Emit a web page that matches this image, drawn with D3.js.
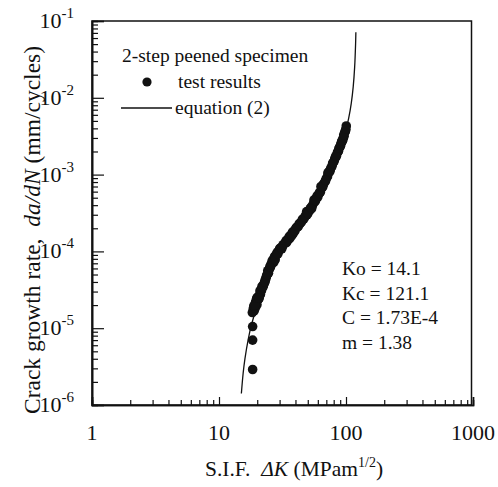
<!DOCTYPE html>
<html>
<head>
<meta charset="utf-8">
<script src="https://cdn.jsdelivr.net/npm/d3@7"></script>
<style>
  html, body { margin: 0; padding: 0; background: #fff; }
  svg { display: block; }
</style>
</head>
<body>
<svg id="chart" width="498" height="487"></svg>
<script>
// ---- data ----
const xDomain = [1, 1000];
const yDomain = [1e-6, 1e-1];
const xTickLabels = ["1", "10", "100", "1000"];
const xTickValues = [1, 10, 100, 1000];
const yTickValues = [1e-6, 1e-5, 1e-4, 1e-3, 1e-2, 1e-1];
const yTickExponents = ["-6", "-5", "-4", "-3", "-2", "-1"];

// test results: ΔK and da/dN
const testDK = [18.4, 18.4, 18.4,
  18.3, 18.6, 18.9, 19.0, 19.3, 19.6, 19.9, 20.2, 20.5, 20.9, 21.2, 21.0, 21.6, 22.0, 22.3, 22.8,
  23.1, 23.6, 23.9, 24.2, 24.8, 25.2, 25.7, 26.2, 26.8, 27.4, 28.0, 28.8, 29.5, 30.3, 31.0, 32.0,
  32.9, 33.8, 34.8, 35.8, 36.8, 37.9, 39.0, 40.2, 41.4, 42.7, 44.0, 45.3, 46.6, 48.0, 49.3, 50.5,
  51.8, 53.0, 54.3, 55.6, 57.0, 58.5, 60.0, 61.4, 62.8, 64.2, 65.6, 67.0, 68.5, 70.0, 71.5, 73.0,
  74.5, 76.0, 77.6, 79.2, 80.8, 82.4, 84.0, 85.6, 87.2, 88.8, 90.4, 92.0, 93.6, 95.2, 96.5, 97.6,
  98.6, 100.5,
  19.4, 20.0, 21.8, 24.5, 27.0, 30.0, 34.0, 38.5, 43.5, 49.0, 56.0, 63.5, 72.0, 81.5, 91.0, 99.0,
  18.8, 19.2, 20.4, 21.4, 22.6, 23.4, 25.0, 26.0, 28.4, 31.5, 33.3, 36.3, 40.8, 46.0, 52.4, 59.2, 66.3, 75.2, 86.4, 94.4,
  19.8, 20.7, 22.1, 23.0, 24.0, 25.4, 27.7, 29.0, 31.2, 35.3, 37.4, 39.6, 42.0, 44.8, 47.3, 50.0, 53.6, 57.6, 62.0, 65.0, 69.2, 73.7, 78.4, 83.2, 88.0, 92.8, 96.0, 99.8];
const testRate = [2.9e-6, 7.0e-6, 1.05e-5,
  1.6e-5, 1.78e-5, 1.68e-5, 1.95e-5, 1.83e-5, 2.15e-5, 2.02e-5, 2.35e-5, 2.4e-5, 2.68e-5, 2.75e-5, 3.05e-5, 3.08e-5, 3.45e-5, 3.55e-5, 3.95e-5,
  4.25e-5, 4.7e-5, 4.95e-5, 5.6e-5, 5.75e-5, 6.4e-5, 6.8e-5, 7.5e-5, 7.9e-5, 8.6e-5, 8.9e-5, 9.8e-5, 1.0e-4, 1.1e-4, 1.12e-4, 1.22e-4,
  1.27e-4, 1.38e-4, 1.44e-4, 1.57e-4, 1.63e-4, 1.78e-4, 1.84e-4, 2.0e-4, 2.08e-4, 2.28e-4, 2.37e-4, 2.6e-4, 2.66e-4, 2.93e-4, 3.0e-4, 3.3e-4,
  3.4e-4, 3.75e-4, 3.9e-4, 4.27e-4, 4.45e-4, 4.92e-4, 5.1e-4, 5.7e-4, 5.9e-4, 6.6e-4, 6.9e-4, 7.7e-4, 8.1e-4, 8.95e-4, 9.4e-4, 1.05e-3,
  1.09e-3, 1.22e-3, 1.28e-3, 1.43e-3, 1.5e-3, 1.67e-3, 1.73e-3, 1.94e-3, 2.02e-3, 2.24e-3, 2.34e-3, 2.6e-3, 2.72e-3, 3.0e-3, 3.15e-3, 3.5e-3,
  3.65e-3, 4.3e-3,
  2.2e-5, 2.5e-5, 3.5e-5, 5.2e-5, 7.2e-5, 1.08e-4, 1.3e-4, 1.72e-4, 2.3e-4, 3.3e-4, 4.7e-4, 7.0e-4, 1.05e-3, 1.6e-3, 2.5e-3, 3.7e-3,
  1.95e-5, 2.0e-5, 2.6e-5, 3.15e-5, 3.75e-5, 4.4e-5, 6.0e-5, 6.9e-5, 9.3e-5, 1.15e-4, 1.3e-4, 1.5e-4, 2.05e-4, 2.65e-4, 3.6e-4, 5.3e-4, 7.4e-4, 1.15e-3, 1.98e-3, 2.85e-3,
  2.45e-5, 2.45e-5, 3.4e-5, 4.0e-5, 5.0e-5, 6.2e-5, 7.8e-5, 9.2e-5, 1.08e-4, 1.42e-4, 1.6e-4, 1.85e-4, 2.1e-4, 2.45e-4, 2.8e-4, 3.1e-4, 3.6e-4, 4.6e-4, 5.8e-4, 6.9e-4, 8.4e-4, 1.1e-3, 1.4e-3, 1.75e-3, 2.2e-3, 2.75e-3, 3.3e-3, 3.9e-3];

// equation (2) curve: ΔK and da/dN
const eqDK = [15.0, 15.5, 16.0, 17.0, 18.0, 20.0, 23.0, 27.0, 32.0, 40.0, 50.0, 60.0, 70.0, 80.0, 90.0, 100.0, 105.0, 110.0, 114.0, 117.0, 119.0, 119.6];
const eqRate = [1.41e-6, 2.61e-6, 3.99e-6, 7.22e-6, 1.10e-5, 1.98e-5, 3.60e-5, 6.27e-5, 1.04e-4, 1.90e-4, 3.41e-4, 5.56e-4, 8.73e-4, 1.36e-3, 2.19e-3, 3.83e-3, 5.42e-3, 8.47e-3, 1.40e-2, 2.53e-2, 5.07e-2, 7.15e-2];

const legendTitle = "2-step peened specimen";
const legendItems = ["test results", "equation (2)"];
const paramLines = ["Ko = 14.1", "Kc = 121.1", "C = 1.73E-4", "m = 1.38"];

// ---- layout ----
const FF = "'Liberation Serif', 'Times New Roman', serif";
const svg = d3.select("#chart").attr("font-family", FF);
const L = 92, R = 473, T = 21, B = 405;
const x = d3.scaleLog().domain(xDomain).range([L, R]);
const y = d3.scaleLog().domain(yDomain).range([B, T]);

const ink = "#111";

// frame
svg.append("rect").attr("x", L).attr("y", T).attr("width", R - 1.5 - L).attr("height", B - T)
  .attr("fill", "none").attr("stroke", ink).attr("stroke-width", 1.5);

// minor / major ticks
const allX = x.ticks();
const minorX = allX.filter(v => !xTickValues.includes(v));
const allY = y.ticks();
const minorY = allY.filter(v => !yTickValues.some(t => Math.abs(t - v) / t < 1e-9));

const gx1 = svg.append("g").attr("transform", `translate(0,${B})`)
  .call(d3.axisBottom(x).tickValues(minorX).tickSize(-5).tickFormat(() => ""));
const gx2 = svg.append("g").attr("transform", `translate(0,${B})`)
  .call(d3.axisBottom(x).tickValues(xTickValues).tickSize(-8).tickFormat(() => ""));
const gy1 = svg.append("g").attr("transform", `translate(${L},0)`)
  .call(d3.axisLeft(y).tickValues(minorY).tickSize(-6).tickFormat(() => ""));
const gy2 = svg.append("g").attr("transform", `translate(${L},0)`)
  .call(d3.axisLeft(y).tickValues(yTickValues).tickSize(-12).tickFormat(() => ""));
[gx1, gx2, gy1, gy2].forEach(g => {
  g.select(".domain").attr("stroke", ink).attr("stroke-width", 1.6);
  g.selectAll(".tick line").attr("stroke", ink).attr("stroke-width", 1.2);
});

// x tick labels
svg.append("g").selectAll("text").data(xTickValues).join("text")
  .attr("fill", ink)
  .attr("x", d => x(d)).attr("y", 440)
  .attr("text-anchor", "middle").attr("font-size", 22)
  .text((d, i) => xTickLabels[i]);

// y tick labels 10^n
const yl = svg.append("g").selectAll("text").data(yTickValues).join("text")
  .attr("fill", ink)
  .attr("x", 74).attr("y", d => y(d) + 7)
  .attr("text-anchor", "end").attr("font-size", 22);
yl.append("tspan").text("10");
yl.append("tspan").attr("dy", -10).attr("font-size", 15).text((d, i) => yTickExponents[i]);

// axis titles
const xt = svg.append("text").attr("x", 294).attr("y", 476).attr("text-anchor", "middle")
  .attr("fill", ink).attr("font-size", 21.5).style("white-space", "pre");
xt.append("tspan").text("S.I.F.  ");
xt.append("tspan").attr("font-style", "italic").text("ΔK");
xt.append("tspan").text(" (MPam");
xt.append("tspan").attr("dy", -9).attr("font-size", 14).text("1/2");
xt.append("tspan").attr("dy", 9).text(")");

const ytl = svg.append("text").attr("transform", "translate(40,230) rotate(-90)")
  .attr("fill", ink).attr("text-anchor", "middle").attr("font-size", 23.5).style("white-space", "pre");
ytl.append("tspan").text("Crack growth rate,  ");
ytl.append("tspan").attr("font-style", "italic").text("da/dN");
ytl.append("tspan").text(" (mm/cycles)");

// equation curve
const eqPts = eqDK.map((k, i) => [k, eqRate[i]]);
svg.append("path").datum(eqPts)
  .attr("fill", "none").attr("stroke", ink).attr("stroke-width", 1.3)
  .attr("d", d3.line().x(d => x(d[0])).y(d => y(d[1])).curve(d3.curveCatmullRom));

// test results
const testPts = testDK.map((k, i) => [k, testRate[i]]);
svg.append("g").selectAll("circle").data(testPts).join("circle")
  .attr("cx", d => x(d[0])).attr("cy", d => y(d[1])).attr("r", 4.8).attr("fill", ink);

// legend
svg.append("text").attr("fill", ink)
  .attr("x", 122).attr("y", 62).attr("font-size", 19.5).text(legendTitle);
svg.append("circle").attr("cx", 147).attr("cy", 82).attr("r", 4.6).attr("fill", ink);
svg.append("text").attr("fill", ink)
  .attr("x", 178).attr("y", 88).attr("font-size", 19.5).text(legendItems[0]);
svg.append("line").attr("x1", 121).attr("x2", 172).attr("y1", 108).attr("y2", 108)
  .attr("stroke", ink).attr("stroke-width", 1.3);
svg.append("text").attr("fill", ink)
  .attr("x", 175).attr("y", 114).attr("font-size", 19.5).text(legendItems[1]);

// parameter annotation
svg.append("g").selectAll("text").data(paramLines).join("text")
  .attr("fill", ink)
  .attr("x", 342).attr("y", (d, i) => 275 + i * 24.5)
  .attr("font-size", 19.5).text(d => d);
</script>
</body>
</html>
